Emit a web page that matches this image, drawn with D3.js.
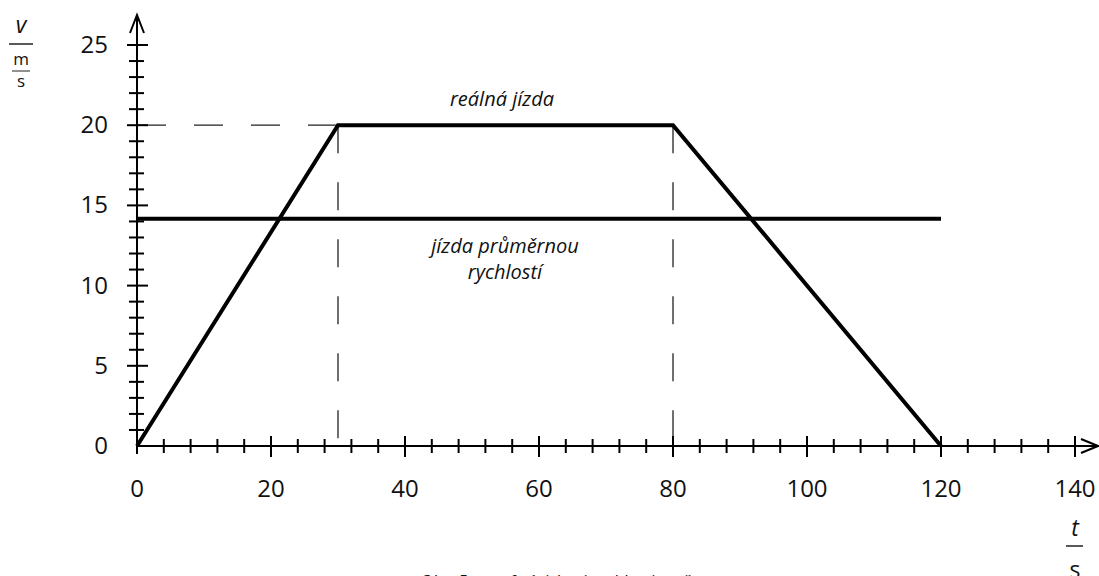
<!DOCTYPE html>
<html><head><meta charset="utf-8">
<script src="https://cdn.jsdelivr.net/npm/d3@7"></script>
<style>body{margin:0;background:#fff}svg{display:block}</style>
</head><body><svg id="c" width="1099" height="576"></svg>
<script>
const realTime = [0, 30, 80, 120];
const realSpeed = [0, 20, 20, 0];
const avgSpeed = 14.17;
const avgRange = [0, 120];
const xTicks = [0, 20, 40, 60, 80, 100, 120, 140];
const yTicks = [0, 5, 10, 15, 20, 25];
const dashedRefs = [30, 80];
const labelReal = "reálná jízda";
const labelAvg = ["jízda průměrnou", "rychlostí"];
const caption = "Obr. 5 – graf závislosti rychlosti na čase";

const svg = d3.select("#c");
const x = d3.scaleLinear().domain([0, 140]).range([137, 1075]);
const y = d3.scaleLinear().domain([0, 25]).range([446, 45]);
const font = "'Open Sans', 'Noto Sans', sans-serif";

// dashed guides
svg.append("line").attr("x1", x(0)).attr("x2", x(30)).attr("y1", y(20)).attr("y2", y(20))
  .attr("stroke", "#222").attr("stroke-width", 1.3).attr("stroke-dasharray", "29,28");
dashedRefs.forEach(t => {
  svg.append("line").attr("x1", x(t)).attr("x2", x(t)).attr("y1", y(20)).attr("y2", y(0))
    .attr("stroke", "#222").attr("stroke-width", 1.3).attr("stroke-dasharray", "28,29");
});

// axes
svg.append("line").attr("x1", x(0)).attr("x2", 1096).attr("y1", y(0)).attr("y2", y(0)).attr("stroke", "#000").attr("stroke-width", 2);
svg.append("line").attr("x1", x(0)).attr("x2", x(0)).attr("y1", y(0) + 8).attr("y2", 16).attr("stroke", "#000").attr("stroke-width", 2);
// arrows
svg.append("path").attr("d", `M${x(0)-7},${33} L${x(0)},${15} L${x(0)+7},${33}`).attr("fill", "none").attr("stroke", "#000").attr("stroke-width", 2);
svg.append("path").attr("d", `M1081,${y(0)-7} L1098,${y(0)} L1081,${y(0)+7}`).attr("fill", "none").attr("stroke", "#000").attr("stroke-width", 2);

// x ticks
const xMinor = d3.range(4, 141, 4).filter(v => v % 20 !== 0);
xMinor.forEach(v => svg.append("line").attr("x1", x(v)).attr("x2", x(v)).attr("y1", y(0) - 7).attr("y2", y(0) + 7).attr("stroke", "#000").attr("stroke-width", 2));
xTicks.filter(v => v > 0).forEach(v => svg.append("line").attr("x1", x(v)).attr("x2", x(v)).attr("y1", y(0) - 10).attr("y2", y(0) + 11).attr("stroke", "#000").attr("stroke-width", 2));
// y ticks
const yMinor = d3.range(1, 26, 1).filter(v => v % 5 !== 0);
yMinor.forEach(v => svg.append("line").attr("x1", x(0) - 8).attr("x2", x(0) + 7).attr("y1", y(v)).attr("y2", y(v)).attr("stroke", "#000").attr("stroke-width", 2));
yTicks.filter(v => v > 0).forEach(v => svg.append("line").attr("x1", x(0) - 10).attr("x2", x(0) + 11).attr("y1", y(v)).attr("y2", y(v)).attr("stroke", "#000").attr("stroke-width", 2));

// tick labels
svg.selectAll(".xl").data(xTicks).enter().append("text")
  .attr("x", d => x(d)).attr("y", 497).attr("text-anchor", "middle")
  .attr("font-family", font).attr("font-size", 24).attr("fill", "#111").text(d => d);
svg.selectAll(".yl").data(yTicks).enter().append("text")
  .attr("x", 108).attr("y", d => y(d) + 8).attr("text-anchor", "end")
  .attr("font-family", font).attr("font-size", 24).attr("fill", "#111").text(d => d);

// data lines
const line = d3.line().x(d => x(d[0])).y(d => y(d[1]));
svg.append("path").datum(realTime.map((t, i) => [t, realSpeed[i]])).attr("d", line)
  .attr("fill", "none").attr("stroke", "#000").attr("stroke-width", 4).attr("stroke-linejoin", "miter");
svg.append("path").datum(avgRange.map(t => [t, avgSpeed])).attr("d", line)
  .attr("fill", "none").attr("stroke", "#000").attr("stroke-width", 4);

// annotations
svg.append("text").attr("x", 502).attr("y", 106).attr("text-anchor", "middle")
  .attr("font-family", font).attr("font-style", "italic").attr("font-size", 20).attr("fill", "#111").text(labelReal);
labelAvg.forEach((s, i) => svg.append("text").attr("x", 505).attr("y", 253 + i * 26).attr("text-anchor", "middle")
  .attr("font-family", font).attr("font-style", "italic").attr("font-size", 20).attr("fill", "#111").text(s));

// axis unit labels
svg.append("text").attr("x", 21).attr("y", 33).attr("text-anchor", "middle").attr("font-family", font).attr("font-style", "italic").attr("font-size", 23).attr("fill", "#111").text("v");
svg.append("line").attr("x1", 9).attr("x2", 33).attr("y1", 44).attr("y2", 44).attr("stroke", "#222").attr("stroke-width", 1.5);
svg.append("text").attr("x", 21).attr("y", 65).attr("text-anchor", "middle").attr("font-family", font).attr("font-size", 17).attr("fill", "#111").text("m");
svg.append("line").attr("x1", 12).attr("x2", 30).attr("y1", 71).attr("y2", 71).attr("stroke", "#222").attr("stroke-width", 1);
svg.append("text").attr("x", 21).attr("y", 87).attr("text-anchor", "middle").attr("font-family", font).attr("font-size", 17).attr("fill", "#111").text("s");

svg.append("text").attr("x", 1075).attr("y", 536).attr("text-anchor", "middle").attr("font-family", font).attr("font-style", "italic").attr("font-size", 23).attr("fill", "#111").text("t");
svg.append("line").attr("x1", 1066).attr("x2", 1083).attr("y1", 546).attr("y2", 546).attr("stroke", "#222").attr("stroke-width", 1.5);
svg.append("text").attr("x", 1075).attr("y", 578).attr("text-anchor", "middle").attr("font-family", font).attr("font-size", 23).attr("fill", "#111").text("s");

// caption (cut at the bottom, as in the reference)
svg.append("text").attr("x", 420).attr("y", 587).attr("font-family", font).attr("font-style", "italic").attr("font-size", 17).attr("fill", "#111").text(caption);
</script></body></html>
